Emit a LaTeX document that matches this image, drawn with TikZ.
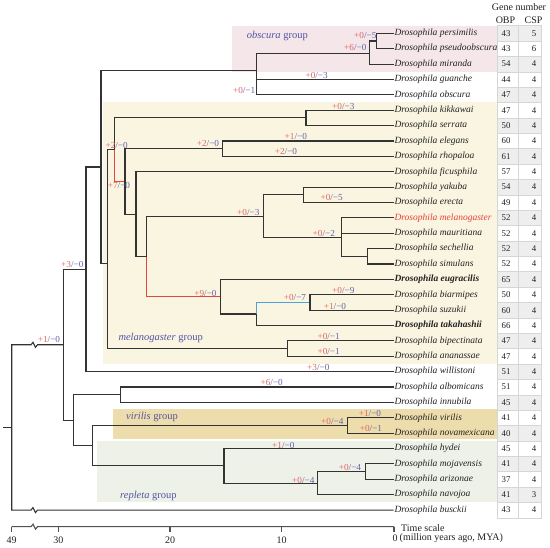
\documentclass[tikz,border=0pt]{standalone}
\usepackage{fontspec}
\setmainfont{Liberation Serif}
\usetikzlibrary{calc}
\definecolor{linec}{HTML}{333333}
\definecolor{redl}{HTML}{E8453C}
\definecolor{bluel}{HTML}{4FA3D8}
\definecolor{labred}{HTML}{E06464}
\definecolor{labblue}{HTML}{6464AA}
\definecolor{grpc}{HTML}{5454A4}
\definecolor{pinkbg}{HTML}{F4E6E9}
\definecolor{yelbg}{HTML}{FAF5E1}
\definecolor{tanbg}{HTML}{EEDDAC}
\definecolor{grnbg}{HTML}{EDF1E7}
\definecolor{cellg}{HTML}{EEEEEE}
\definecolor{cellb}{HTML}{D6D6D6}
\definecolor{melred}{HTML}{E8403C}
\definecolor{leafc}{HTML}{222222}
\newcommand\gl[2]{\textcolor{labred}{+#1}\textcolor{labblue}{/−#2}}
\begin{document}
\begin{tikzpicture}[x=1pt,y=-1pt,
  branch/.style={line width=1.1pt,draw=linec},
  redbranch/.style={line width=1.1pt,draw=redl},
  bluebranch/.style={line width=1.1pt,draw=bluel},
  axisline/.style={line width=1.1pt,draw=linec!85},
  leaf/.style={anchor=west,inner sep=0pt,text=leafc,font=\fontsize{9.5}{10}\selectfont\itshape},
  num/.style={inner sep=0pt,text=leafc,font=\fontsize{8.8}{10}\selectfont},
  cell/.style={draw=cellb,line width=0.4pt},
  bl/.style={inner sep=0pt,font=\fontsize{9.2}{10}\selectfont},
  grp/.style={anchor=west,inner sep=0pt,text=grpc,font=\fontsize{10.5}{12}\selectfont},
  axl/.style={inner sep=0pt,text=leafc,font=\fontsize{10}{12}\selectfont},
  hdr/.style={inner sep=0pt,text=leafc,font=\fontsize{10}{12}\selectfont}]
\useasboundingbox (0,0) rectangle (550,548);
\fill[white] (0,0) rectangle (550,548);
% group backgrounds
\fill[pinkbg] (231.7,25.6) rectangle (497,71.8);
\fill[yelbg] (103.3,102.5) rectangle (497,364);
\fill[tanbg] (113.3,409.5) rectangle (497,439);
\fill[grnbg] (96.7,441) rectangle (497,502.5);
% header
\node[hdr] (hgn) at (519,7.5) {Gene number};
\node[hdr] (hobp) at (505.5,20) {OBP};
\node[hdr] (hcsp) at (533.5,20) {CSP};
% leaves and table
\foreach \i/\nm/\ob/\cs in {
 0/{Drosophila persimilis}/43/5,
 1/{Drosophila pseudoobscura}/43/6,
 2/{Drosophila miranda}/54/4,
 3/{Drosophila guanche}/44/4,
 4/{Drosophila obscura}/47/4,
 5/{Drosophila kikkawai}/47/4,
 6/{Drosophila serrata}/50/4,
 7/{Drosophila elegans}/60/4,
 8/{Drosophila rhopaloa}/61/4,
 9/{Drosophila ficusphila}/57/4,
 10/{Drosophila yakuba}/54/4,
 11/{Drosophila erecta}/49/4,
 12/{\color{melred}Drosophila melanogaster}/52/4,
 13/{Drosophila mauritiana}/52/4,
 14/{Drosophila sechellia}/52/4,
 15/{Drosophila simulans}/52/4,
 16/{\bfseries Drosophila eugracilis}/65/4,
 17/{Drosophila biarmipes}/50/4,
 18/{Drosophila suzukii}/60/4,
 19/{\bfseries Drosophila takahashii}/66/4,
 20/{Drosophila bipectinata}/47/4,
 21/{Drosophila ananassae}/47/4,
 22/{Drosophila willistoni}/51/4,
 23/{Drosophila albomicans}/51/4,
 24/{Drosophila innubila}/45/4,
 25/{Drosophila virilis}/41/4,
 26/{Drosophila novamexicana}/40/4,
 27/{Drosophila hydei}/45/4,
 28/{Drosophila mojavensis}/41/4,
 29/{Drosophila arizonae}/37/4,
 30/{Drosophila navojoa}/41/3,
 31/{Drosophila busckii}/43/4}{
  \pgfmathsetmacro\yy{33.3+15.38*\i}
  \ifodd\i \def\cf{white}\else\def\cf{cellg}\fi
  \filldraw[cell,fill=\cf] (497,\yy-7.69) rectangle (518.5,\yy+7.69);
  \filldraw[cell,fill=\cf] (518.5,\yy-7.69) rectangle (541,\yy+7.69);
  \coordinate (L\i) at (393.5,\yy);
  \node[leaf] (t\i) at (394.3,\yy) {\nm};
  \node[num] (o\i) at (506,\yy) {\ob};
  \node[num] (c\i) at (534,\yy) {\cs};
}
% internal nodes
\coordinate (PP) at (376.7,41.0);
\coordinate (PPM) at (369.3,53.3);
\coordinate (OBS) at (256.7,70.7);
\coordinate (KS) at (306,117.9);
\coordinate (ER) at (222.3,148.7);
\coordinate (YE) at (303.3,194.8);
\coordinate (SS) at (367.7,256.3);
\coordinate (MMS) at (341.7,237.7);
\coordinate (MSG) at (263.3,216.7);
\coordinate (BS) at (310,302.5);
\coordinate (N14) at (256.7,314);
\coordinate (N10) at (220.7,296.7);
\coordinate (N9) at (146.7,256.7);
\coordinate (N8) at (136,214.2);
\coordinate (N7) at (125,181.5);
\coordinate (N6) at (114.3,149.7);
\coordinate (BA) at (287.3,348.6);
\coordinate (N5) at (107.7,263.3);
\coordinate (N4) at (101,167);
\coordinate (N2) at (86,269.3);
\coordinate (AI) at (120.7,394.7);
\coordinate (VN) at (347.7,425.5);
\coordinate (MA) at (365.7,471.7);
\coordinate (MAN) at (317.7,483.2);
\coordinate (REP) at (224,465.9);
\coordinate (N15) at (92.3,445.7);
\coordinate (N3) at (73.3,420.2);
\coordinate (N1) at (63.3,344.8);
\coordinate (R) at (11.7,427.4);
\coordinate (R0) at (3,427.4);
\coordinate (Z1) at (31,344.8);
\coordinate (Z2) at (31,510.1);
% tree
\draw[branch] (R0) -- (R);
\draw[branch] (R) |- (Z1) -- ++(2,-2.5) -- ++(2.5,5) -- ++(2,-2.5) -- (N1);
\draw[branch] (R) |- (Z2) -- ++(2,-2.5) -- ++(2.5,5) -- ++(2,-2.5) -- (L31);
\draw[branch] (N1) |- (N2);
\draw[branch] (N1) |- (N3);
\draw[branch] (N2) |- (N4);
\draw[branch] (N2) |- (L22);
\draw[branch] (N4) |- (OBS);
\draw[branch] (N4) |- (N5);
\draw[branch] (OBS) |- (PPM);
\draw[branch] (OBS) |- (L3);
\draw[branch] (OBS) |- (L4);
\draw[branch] (PPM) |- (PP);
\draw[branch] (PPM) |- (L2);
\draw[branch] (PP) |- (L0);
\draw[branch] (PP) |- (L1);
\draw[branch] (N5) |- (N6);
\draw[branch] (N5) |- (BA);
\draw[branch] (N6) |- (KS);
\draw[redbranch] (N6) |- (N7);
\draw[branch] (KS) |- (L5);
\draw[branch] (KS) |- (L6);
\draw[branch] (N7) |- (ER);
\draw[branch] (N7) |- (N8);
\draw[branch] (ER) |- (L7);
\draw[branch] (ER) |- (L8);
\draw[branch] (N8) |- (L9);
\draw[branch] (N8) |- (N9);
\draw[branch] (N9) |- (MSG);
\draw[redbranch] (N9) |- (N10);
\draw[branch] (MSG) |- (YE);
\draw[branch] (MSG) |- (MMS);
\draw[branch] (YE) |- (L10);
\draw[branch] (YE) |- (L11);
\draw[branch] (MMS) |- (L12);
\draw[branch] (MMS) |- (L13);
\draw[branch] (MMS) |- (SS);
\draw[branch] (SS) |- (L14);
\draw[branch] (SS) |- (L15);
\draw[branch] (N10) |- (L16);
\draw[branch] (N10) |- (N14);
\draw[bluebranch] (N14) |- (BS);
\draw[branch] (N14) |- (L19);
\draw[branch] (BS) |- (L17);
\draw[branch] (BS) |- (L18);
\draw[branch] (BA) |- (L20);
\draw[branch] (BA) |- (L21);
\draw[branch] (N3) |- (AI);
\draw[branch] (N3) |- (N15);
\draw[branch] (AI) |- (L23);
\draw[branch] (AI) |- (L24);
\draw[branch] (N15) |- (VN);
\draw[branch] (N15) |- (REP);
\draw[branch] (VN) |- (L25);
\draw[branch] (VN) |- (L26);
\draw[branch] (REP) |- (L27);
\draw[branch] (REP) |- (MAN);
\draw[branch] (MAN) |- (MA);
\draw[branch] (MAN) |- (L30);
\draw[branch] (MA) |- (L28);
\draw[branch] (MA) |- (L29);
% branch labels
\node[bl] (b1) at (365.3,35.7) {\gl{0}{5}};
\node[bl] (b2) at (355.3,47.7) {\gl{6}{0}};
\node[bl] (b3) at (316.7,75.7) {\gl{0}{3}};
\node[bl] (b4) at (244.2,90.7) {\gl{0}{1}};
\node[bl] (b5) at (343.3,106) {\gl{0}{3}};
\node[bl] (b6) at (295.8,136.7) {\gl{1}{0}};
\node[bl] (b7) at (286,151.7) {\gl{2}{0}};
\node[bl] (b8) at (208,143.3) {\gl{2}{0}};
\node[bl] (b9) at (116.7,145.7) {\gl{2}{0}};
\node[bl] (b10) at (119,185) {\gl{7}{0}};
\node[bl] (b11) at (331.7,197.7) {\gl{0}{5}};
\node[bl] (b12) at (248.3,212.3) {\gl{0}{3}};
\node[bl] (b13) at (323.8,233.3) {\gl{0}{2}};
\node[bl] (b14) at (205.5,293) {\gl{9}{0}};
\node[bl] (b15) at (295,297.7) {\gl{0}{7}};
\node[bl] (b16) at (343.3,290.7) {\gl{0}{9}};
\node[bl] (b17) at (335,306) {\gl{1}{0}};
\node[bl] (b18) at (328.7,336.7) {\gl{0}{1}};
\node[bl] (b19) at (328.7,351.7) {\gl{0}{1}};
\node[bl] (b20) at (318.3,367.7) {\gl{3}{0}};
\node[bl] (b21) at (271.7,382.7) {\gl{6}{0}};
\node[bl] (b22) at (72.3,264) {\gl{3}{0}};
\node[bl] (b23) at (49,339) {\gl{1}{0}};
\node[bl] (b24) at (370,413.5) {\gl{1}{0}};
\node[bl] (b25) at (371,428) {\gl{0}{1}};
\node[bl] (b26) at (332.3,421) {\gl{0}{4}};
\node[bl] (b27) at (283.3,445.7) {\gl{1}{0}};
\node[bl] (b28) at (350,467.7) {\gl{0}{4}};
\node[bl] (b29) at (303.3,480) {\gl{0}{4}};
% group labels
\node[grp] (gobs) at (246.7,36) {\textit{obscura} group};
\node[grp] (gmel) at (118.3,337.7) {\textit{melanogaster} group};
\node[grp] (gvir) at (126,416.7) {\textit{virilis} group};
\node[grp] (grep) at (120,496) {\textit{repleta} group};
% time axis
\coordinate (T49) at (11.7,526.7);
\coordinate (T30) at (58.3,526.7);
\coordinate (T20) at (170,526.7);
\coordinate (T10) at (281.5,526.7);
\coordinate (T0) at (394,526.7);
\coordinate (Z3) at (31,526.7);
\draw[axisline] (T49) -- (Z3) -- ++(2,-2.5) -- ++(2.5,5) -- ++(2,-2.5) -- (T0);
\foreach \t in {T49,T30,T20,T10,T0} \draw[axisline] (\t) -- ++(0,5.5);
\node[axl] (a49) at (11.7,540) {49};
\node[axl] (a30) at (58.3,540) {30};
\node[axl] (a20) at (170,540) {20};
\node[axl] (a10) at (281.5,540) {10};
\node[axl] (a0) at (395,538.5) {0};
\node[axl,anchor=west] (tsc) at (401,528) {Time scale};
\node[axl,anchor=west] (mya) at (399.5,538.5) {(million years ago, MYA)};
\end{tikzpicture}
\end{document}
